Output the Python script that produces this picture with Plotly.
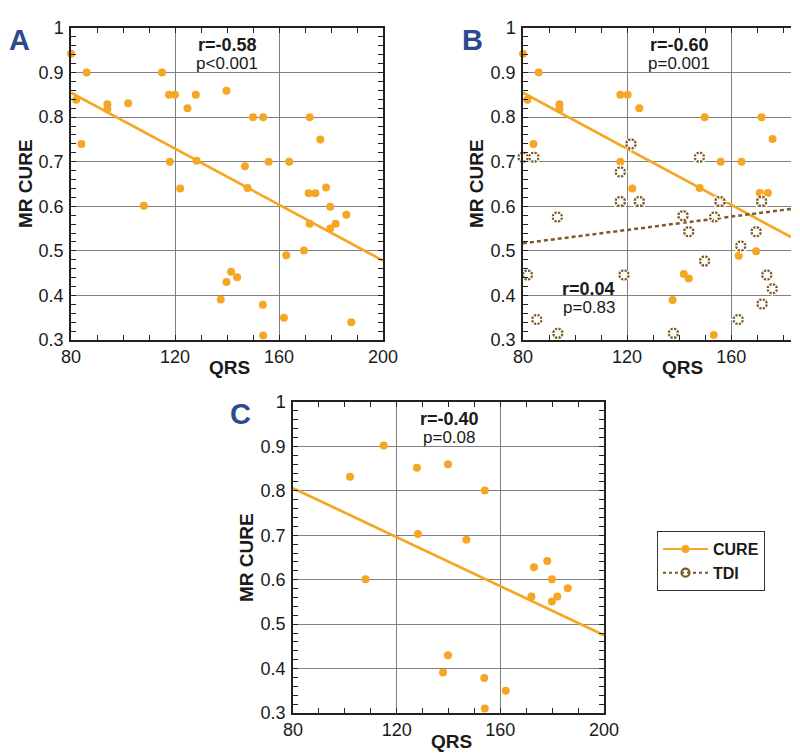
import plotly.graph_objects as go

# ---------------- data ----------------
A_qrs = [80, 86, 82, 84, 94, 94, 102, 108, 115, 117.7, 120, 118, 122, 124.8, 128, 128.3,
         139.8, 137.6, 139.8, 141.6, 143.9, 146.9, 147.9, 150, 153.9, 153.8, 153.9, 156,
         163.9, 162.8, 161.9, 169.6, 171.8, 171.4, 174, 171.8, 175.9, 178.1, 179.7, 179.7,
         181.8, 185.9, 187.8]
A_cure = [0.942, 0.900, 0.839, 0.740, 0.829, 0.818, 0.831, 0.601, 0.900, 0.850, 0.850, 0.700,
          0.640, 0.820, 0.850, 0.702, 0.859, 0.391, 0.430, 0.453, 0.441, 0.690, 0.641, 0.800,
          0.800, 0.379, 0.310, 0.700, 0.700, 0.490, 0.350, 0.501, 0.800, 0.629, 0.629, 0.561,
          0.750, 0.642, 0.599, 0.550, 0.561, 0.581, 0.340]

B_cure_qrs = [80, 86, 81.7, 84, 94, 94, 117.4, 120.2, 117.4, 122, 124.7, 137.5, 141.8, 143.7,
              147.9, 149.8, 153.3, 156, 164, 162.9, 169.6, 171.7, 171, 174.1, 175.9]
B_cure = [0.942, 0.900, 0.839, 0.740, 0.829, 0.818, 0.850, 0.850, 0.700, 0.640, 0.820, 0.390,
          0.448, 0.438, 0.641, 0.800, 0.311, 0.700, 0.700, 0.489, 0.499, 0.800, 0.630, 0.630, 0.751]

B_tdi_qrs = [80, 84.2, 81.7, 85.3, 93.2, 93.4, 121.5, 117.4, 117.4, 124.7, 118.8, 147.8, 141.5,
             143.7, 149.8, 153.6, 155.7, 137.8, 163.7, 169.6, 171.7, 173.7, 175.8, 171.9, 162.7]
B_tdi = [0.710, 0.710, 0.446, 0.346, 0.576, 0.315, 0.740, 0.677, 0.611, 0.611, 0.446, 0.710,
         0.579, 0.543, 0.477, 0.576, 0.611, 0.315, 0.511, 0.543, 0.611, 0.446, 0.415, 0.381, 0.346]

C_qrs = [102, 108, 115, 127.8, 128.2, 139.8, 139.8, 137.9, 146.9, 154, 153.8, 154, 162.1,
         173, 172, 178.1, 179.9, 179.9, 182, 186]
C_cure = [0.832, 0.601, 0.902, 0.852, 0.703, 0.860, 0.430, 0.391, 0.690, 0.801, 0.379, 0.310,
          0.350, 0.628, 0.562, 0.642, 0.601, 0.551, 0.562, 0.581]

# regression lines (end points)
fitA_x = [80, 200]
fitA_y = [0.855, 0.478]
fitB_x = [80, 183]
fitB_cure_y = [0.855, 0.531]
fitB_tdi_y = [0.517, 0.594]
fitC_x = [80, 200]
fitC_y = [0.806, 0.475]

stats = {
    "A": ("r=-0.58", "p<0.001"),
    "B": ("r=-0.60", "p=0.001"),
    "B_tdi": ("r=0.04", "p=0.83"),
    "C": ("r=-0.40", "p=0.08"),
}

# ---------------- styles ----------------
ORANGE = "#F5A623"
BROWN = "#7E5B22"
NAVY = "#2B4A8F"
FONT = "Liberation Sans, Arial, sans-serif"
OFF = 8                      # default page margin of the html body
W, H = 800 - OFF, 756 - OFF

fig = go.Figure()


def cure_traces(xs, ys, fx, fy, xa, ya):
    fig.add_trace(go.Scatter(x=fx, y=fy, mode="lines", line=dict(color=ORANGE, width=2.7),
                             xaxis=xa, yaxis=ya, showlegend=False, hoverinfo="skip"))
    fig.add_trace(go.Scatter(x=xs, y=ys, mode="markers",
                             marker=dict(color=ORANGE, size=8, line=dict(width=0)),
                             xaxis=xa, yaxis=ya, showlegend=False, cliponaxis=False))


cure_traces(A_qrs, A_cure, fitA_x, fitA_y, "x", "y")
cure_traces(B_cure_qrs, B_cure, fitB_x, fitB_cure_y, "x2", "y2")
cure_traces(C_qrs, C_cure, fitC_x, fitC_y, "x3", "y3")

# TDI in panel B
fig.add_trace(go.Scatter(x=fitB_x, y=fitB_tdi_y, mode="lines",
                         line=dict(color=BROWN, width=2.5, dash="4px,3px"),
                         xaxis="x2", yaxis="y2", showlegend=False, hoverinfo="skip"))
fig.add_trace(go.Scatter(x=B_tdi_qrs, y=B_tdi, mode="markers",
                         marker=dict(symbol="circle-open", color=BROWN, size=9,
                                     line=dict(width=2.5, color=BROWN)),
                         xaxis="x2", yaxis="y2", showlegend=False, cliponaxis=False))
# white spokes break the rings into dashes
fig.add_trace(go.Scatter(x=B_tdi_qrs, y=B_tdi, mode="markers",
                         marker=dict(symbol="asterisk-open", color="white", size=13,
                                     line=dict(width=1.3, color="white")),
                         xaxis="x2", yaxis="y2", showlegend=False, cliponaxis=False,
                         hoverinfo="skip"))

# legend entries
fig.add_trace(go.Scatter(x=[None], y=[None], mode="lines+markers", name="CURE",
                         line=dict(color=ORANGE, width=2),
                         marker=dict(color=ORANGE, size=8), xaxis="x", yaxis="y"))
fig.add_trace(go.Scatter(x=[None], y=[None], mode="lines+markers", name="TDI",
                         line=dict(color=BROWN, width=2, dash="3px,3px"),
                         marker=dict(symbol="circle-open", color=BROWN, size=8,
                                     line=dict(width=2.2, color=BROWN)),
                         xaxis="x", yaxis="y"))


def px_x(p):
    return (p - OFF) / W


def px_y(p):
    return 1 - (p - OFF) / H


def xaxis(dom, rng, anchor):
    return dict(domain=dom, range=rng, anchor=anchor, dtick=40, tick0=80,
                showgrid=True, gridcolor="#808080", gridwidth=1,
                showline=True, linecolor="#222", linewidth=1.5, mirror="ticks",
                ticks="inside", ticklen=5, tickcolor="#222", tickwidth=1,
                minor=dict(dtick=10, tick0=80, ticks="inside", ticklen=5,
                           tickcolor="#222", tickwidth=1, showgrid=False),
                tickfont=dict(family=FONT, size=18, color="#1a1a1a"),
                zeroline=False, automargin=False, fixedrange=True)


def yaxis(dom, anchor, mirror=True):
    return dict(domain=dom, range=[0.3, 1.0], anchor=anchor, dtick=0.1, tick0=0,
                showgrid=True, gridcolor="#808080", gridwidth=1,
                showline=True, linecolor="#222", linewidth=1.5,
                mirror="ticks" if mirror else False,
                ticks="inside", ticklen=5, tickcolor="#222", tickwidth=1,
                minor=dict(dtick=0.02, tick0=0, ticks="inside", ticklen=5,
                           tickcolor="#222", tickwidth=1, showgrid=False),
                tickfont=dict(family=FONT, size=18, color="#1a1a1a"),
                ticklabelstandoff=2,
                zeroline=False, automargin=False, fixedrange=True)


top_dom = [px_y(340), px_y(28)]
bot_dom = [px_y(713), px_y(402)]

fig.update_layout(
    width=W, height=H,
    margin=dict(l=0, r=0, t=0, b=0),
    paper_bgcolor="white", plot_bgcolor="white",
    font=dict(family=FONT, color="#1a1a1a"),
    xaxis=xaxis([px_x(71), px_x(383)], [80, 200], "y"),
    yaxis=yaxis(top_dom, "x"),
    xaxis2=xaxis([px_x(523), px_x(791)], [80, 183], "y2"),
    yaxis2=yaxis(top_dom, "x2", mirror=False),
    xaxis3=xaxis([px_x(293), px_x(604)], [80, 200], "y3"),
    yaxis3=yaxis(bot_dom, "x3"),
    legend=dict(x=px_x(657), y=px_y(531), xanchor="left", yanchor="top",
                bordercolor="#333", borderwidth=1, bgcolor="white",
                font=dict(family=FONT, size=16, color="#1a1a1a", weight="bold"),
                itemwidth=45, tracegroupgap=0),
)

ann = []


def label(text, xc, yc, size, color="#1a1a1a", bold=True, angle=0):
    ann.append(dict(text=("<b>%s</b>" % text) if bold else text, x=px_x(xc), y=px_y(yc),
                    xref="paper", yref="paper", showarrow=False, textangle=angle,
                    xanchor="center", yanchor="middle",
                    font=dict(family=FONT, size=size, color=color)))


label("A", 19, 40, 29, NAVY)
label("B", 472, 40, 29, NAVY)
label("C", 241, 414, 29, NAVY)
label("MR CURE", 25, 184, 19, angle=-90)
label("MR CURE", 476, 184, 19, angle=-90)
label("MR CURE", 246, 558, 19, angle=-90)
label("QRS", 230, 368, 19)
label("QRS", 682, 368, 19)
label("QRS", 452, 741, 19)


def stat(key, x, y, xa, ya):
    r, p = stats[key]
    ann.append(dict(text="<b>%s</b>" % r, x=x, y=y, xref=xa, yref=ya, showarrow=False,
                    xanchor="center", yanchor="middle",
                    font=dict(family=FONT, size=18, color="#1a1a1a")))
    ann.append(dict(text=p, x=x, y=y - 0.041, xref=xa, yref=ya, showarrow=False,
                    xanchor="center", yanchor="middle",
                    font=dict(family=FONT, size=17, color="#1a1a1a")))


stat("A", 140, 0.961, "x", "y")
stat("B", 140, 0.961, "x2", "y2")
stat("B_tdi", 105.3, 0.414, "x2", "y2")
stat("C", 140.2, 0.962, "x3", "y3")

fig.update_layout(annotations=ann)
fig.write_html("out.html")
